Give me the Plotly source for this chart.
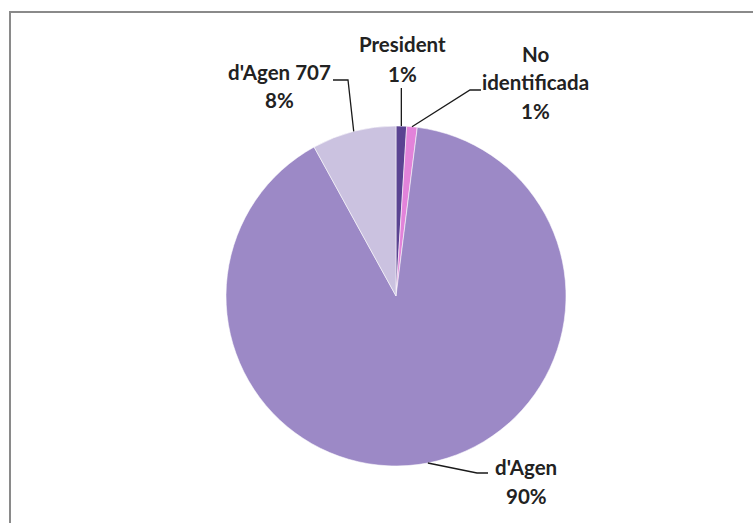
import math
import plotly.graph_objects as go

# ---- data ----
labels = ["President", "No identificada", "d'Agen", "d'Agen 707"]
values = [1, 1, 90, 8]
label_text = [["President"], ["No", "identificada"], ["d'Agen"], ["d'Agen 707"]]
colors = ["#5A4392", "#E283DA", "#9C89C6", "#CBC2E0"]

# ---- layout constants (pixels) ----
W, H = 753, 523
cx, cy, r = 396, 296, 170
# centre of each label block (x) and y of each text line
label_x = [402, 535, 526, 279]
label_ys = [[44, 74], [54, 82, 111], [467, 496], [72, 100]]
# elbow / end points of leader lines (label side)
leader_ends = [
    [(None, 88)],
    [(481, 90), (470, 90)],
    [(488, 473), (477, 473)],
    [(333, 80), (348, 80)],
]

def px(x):
    return x / W

def py(y):
    return 1 - y / H

total = sum(values)
fig = go.Figure()
fig.add_trace(go.Pie(
    labels=labels, values=values, sort=False, direction="clockwise", rotation=0,
    marker=dict(colors=colors, line=dict(color="rgba(255,255,255,0.55)", width=1)),
    textinfo="none", hoverinfo="label+percent", showlegend=False,
    domain=dict(x=[px(cx - r), px(cx + r)], y=[py(cy + r), py(cy - r)]),
))

annotations = []
shapes = []
cum = 0
for i, v in enumerate(values):
    mid = (cum + v / 2) / total * 2 * math.pi
    cum += v
    ex = cx + r * math.sin(mid)
    ey = cy - r * math.cos(mid)
    pct = f"{round(v / total * 100)}%"
    lines = label_text[i] + [pct]
    for t, y in zip(lines, label_ys[i]):
        annotations.append(dict(
            x=px(label_x[i]), y=py(y), xref="paper", yref="paper", text=t,
            showarrow=False, xanchor="center", yanchor="middle",
            font=dict(family="Lato", size=20.5, color="#222222", weight="bold"),
        ))
    pts = []
    for (x, y) in leader_ends[i]:
        pts.append((ex if x is None else x, y))
    pts.append((ex, ey))
    path = "M " + " L ".join(f"{px(x)},{py(y)}" for x, y in pts)
    shapes.append(dict(type="path", path=path, xref="paper", yref="paper",
                       line=dict(color="#1a1a1a", width=1.3)))

# chart area border (extends beyond right/bottom edge)
shapes.append(dict(type="rect", xref="paper", yref="paper",
                   x0=px(10), y0=py(540), x1=px(770), y1=py(12),
                   line=dict(color="#8a8a8a", width=2), layer="below"))

fig.update_layout(
    width=W, height=H, margin=dict(l=0, r=0, t=0, b=0),
    paper_bgcolor="white", plot_bgcolor="white",
    annotations=annotations, shapes=shapes,
)
fig.write_html("out.html")
